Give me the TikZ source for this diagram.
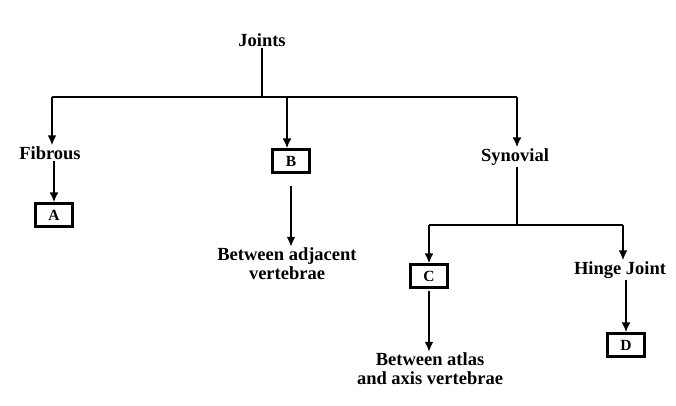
\documentclass[tikz,border=0pt]{standalone}
\usepackage{fontspec}
\setmainfont{Liberation Serif}
\usetikzlibrary{arrows.meta}
\begin{document}
\begin{tikzpicture}[x=1pt,y=-1pt,
  lbl/.style={font=\bfseries\fontsize{18.5}{19}\selectfont, inner sep=1pt, align=center},
  boxed/.style={draw, line width=2.2pt, font=\bfseries\fontsize{15.5}{16}\selectfont, minimum width=37pt, minimum height=23pt, inner sep=1pt},
  ln/.style={line width=2.2pt},
  arr/.style={line width=2.2pt, -{Latex[length=10pt,width=9pt]}}]
\useasboundingbox (0,0) rectangle (676,406);
\node[lbl] (joints) at (262,40) {Joints};
\node[lbl] (fibrous) at (50,153) {Fibrous};
\node[boxed] (A) at (54,215) {A};
\node[boxed] (B) at (291,161) {B};
\node[lbl] (adj) at (287,264) {Between adjacent\\vertebrae};
\node[lbl] (syn) at (515,157) {Synovial};
\node[boxed] (C) at (429,276) {C};
\node[lbl] (atlas) at (430,369) {Between atlas\\and axis vertebrae};
\node[lbl] (hinge) at (620,270) {Hinge Joint};
\node[boxed] (D) at (626,345) {D};
\coordinate (j0) at (262,97);
\coordinate (bl) at (52,97);
\coordinate (br) at (517,97);
\coordinate (bm) at (287,97);
\coordinate (s0) at (517,225);
\coordinate (sl) at (429,225);
\coordinate (sr) at (623,225);
\draw[ln] (joints.south -| j0) -- (j0);
\draw[arr] (bl) -- (bl |- fibrous.north);
\draw[ln] (bl) -- (br);
\draw[arr] (bm) -- (bm |- B.north);
\draw[arr] (br) -- (br |- syn.north);
\draw[arr] (fibrous.south -| A.north) -- (A.north);
\draw[arr] ([yshift=-12pt]B.south) -- (adj.north -| B.south);
\draw[ln] (syn.south -| s0) -- (s0);
\draw[ln] (sl) -- (sr);
\draw[arr] (sl) -- (sl |- C.north);
\draw[arr] (sr) -- (sr |- hinge.north);
\draw[arr] ([yshift=-2pt]C.south) -- (atlas.north -| C.south);
\draw[arr] (hinge.south -| D.north) -- (D.north);
\end{tikzpicture}
\end{document}
